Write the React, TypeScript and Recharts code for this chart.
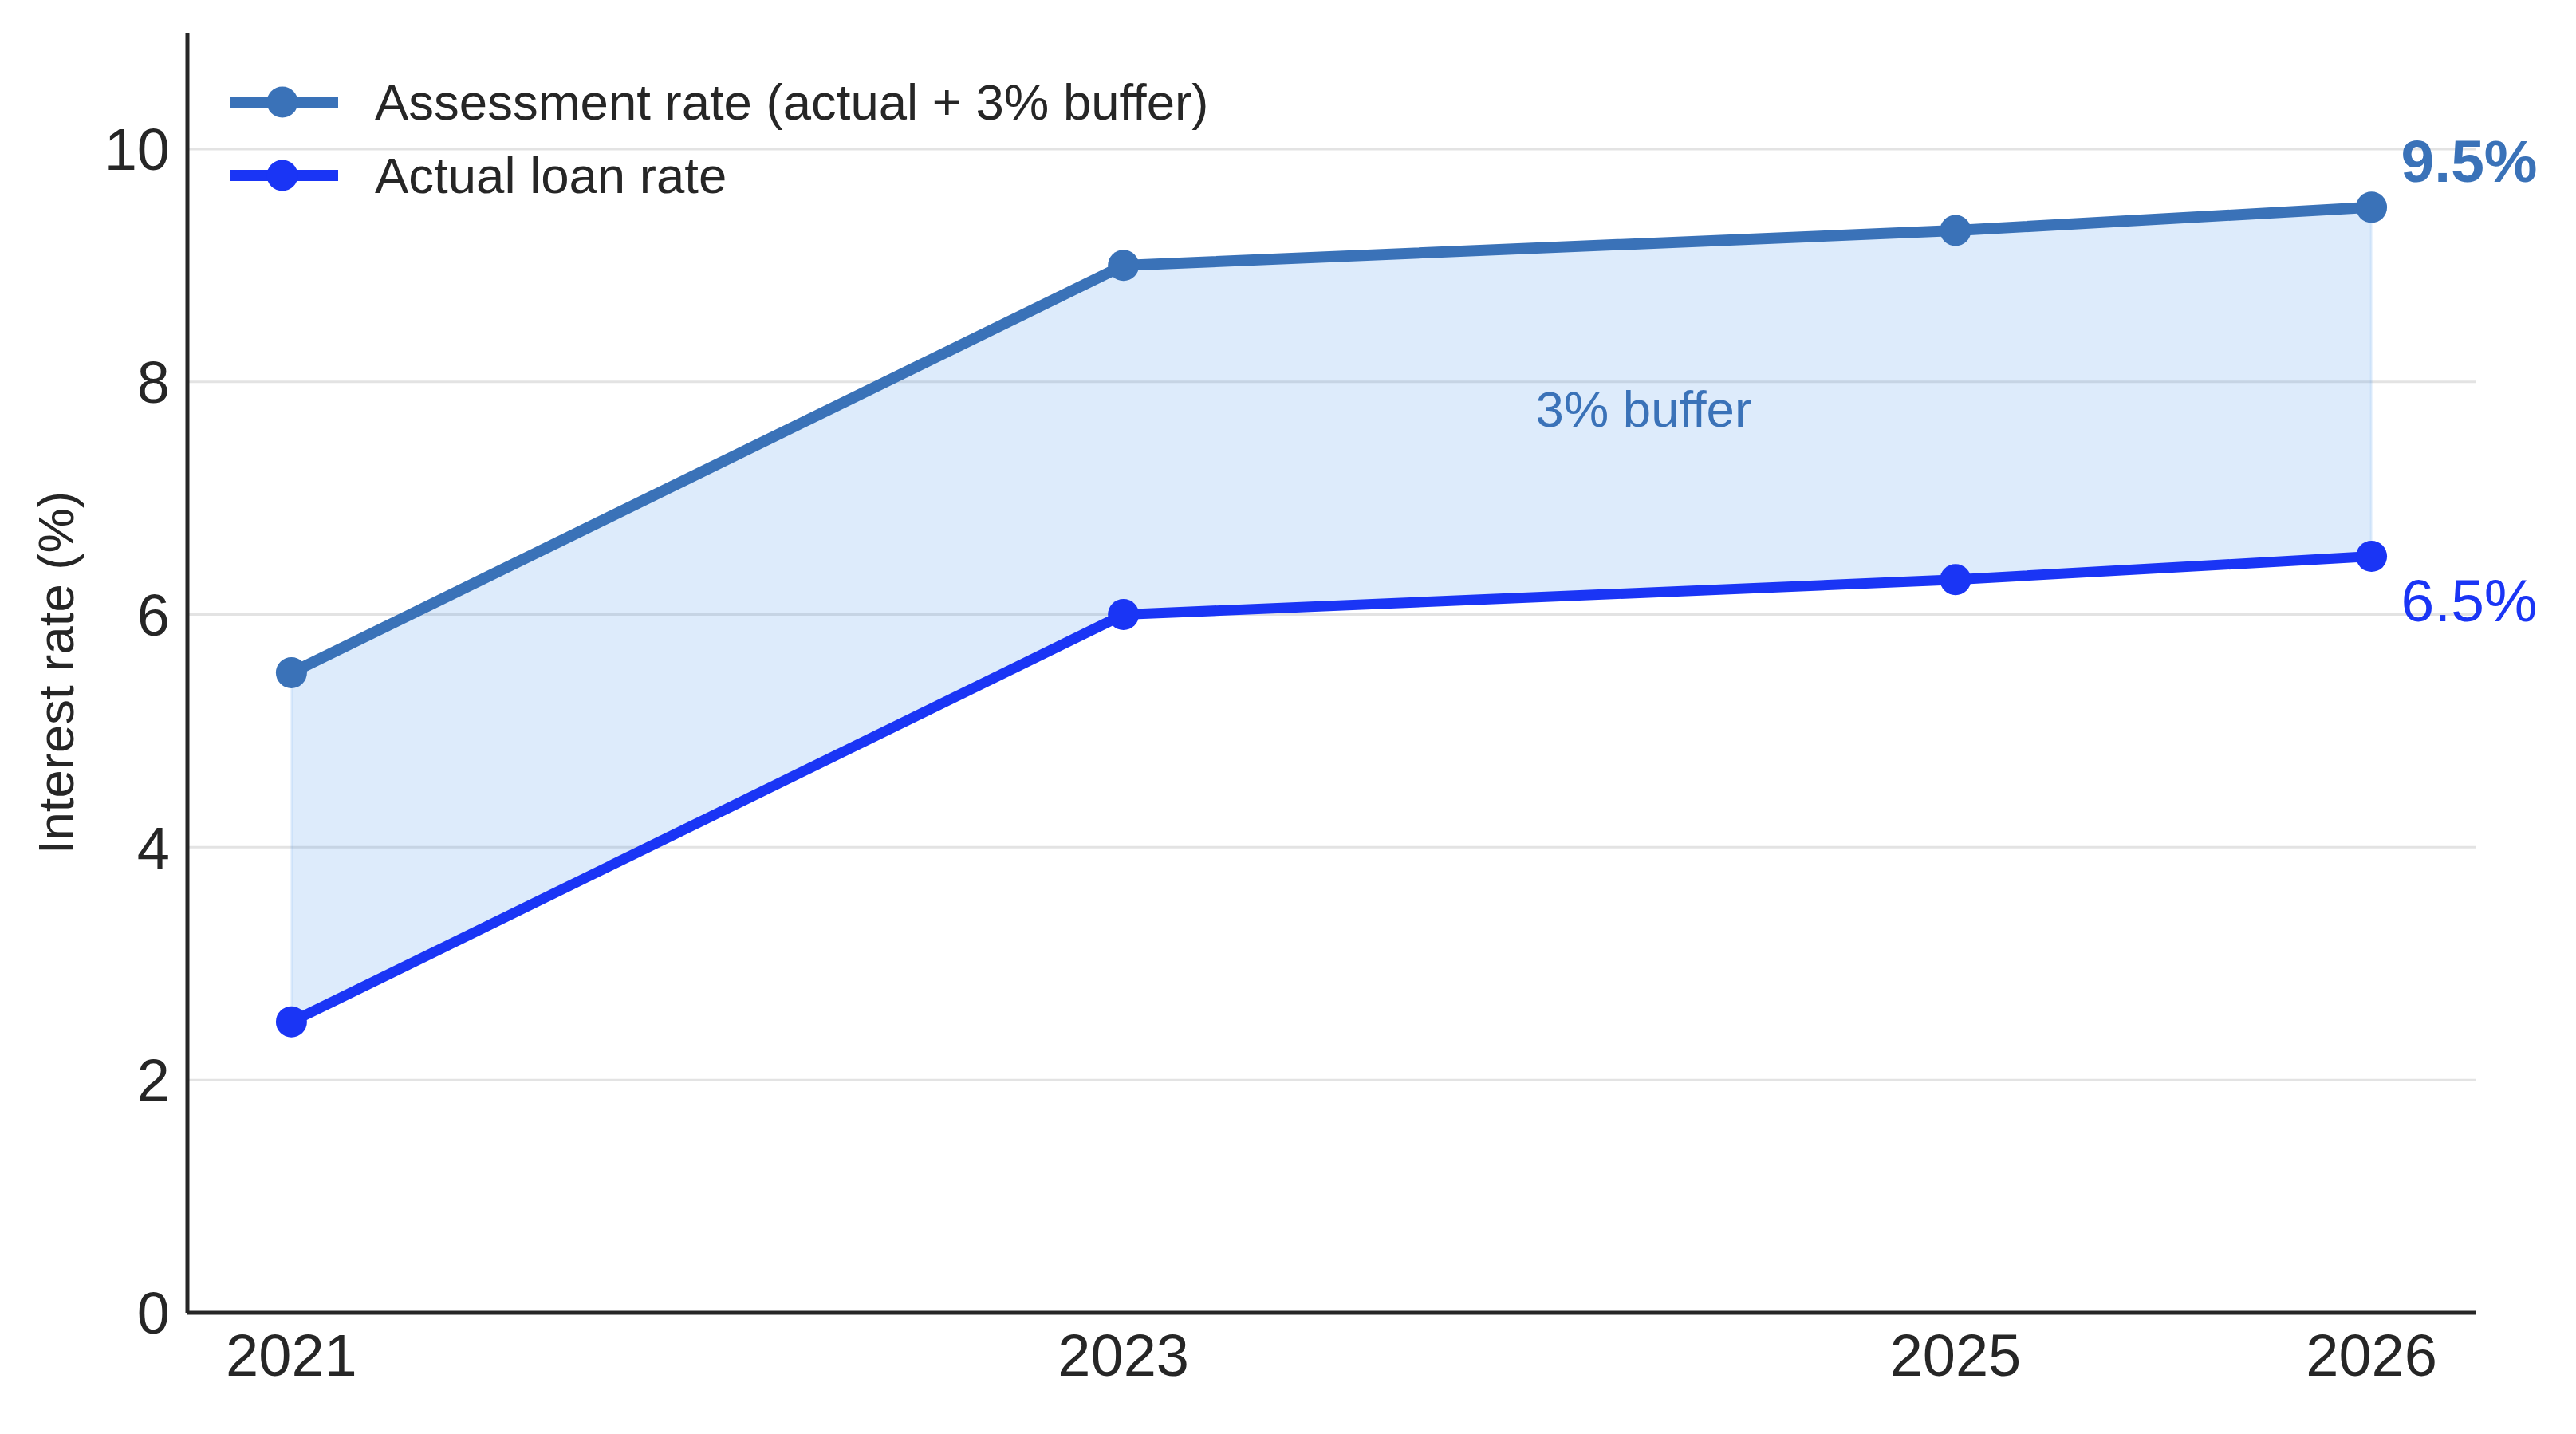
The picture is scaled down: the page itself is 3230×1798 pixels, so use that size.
import React from "react";
import {
  Area,
  CartesianGrid,
  ComposedChart,
  LabelList,
  Line,
  ReferenceDot,
  ReferenceLine,
  XAxis,
  YAxis,
} from "recharts";

const years = [2021, 2023, 2025, 2026];
const actualRate = [2.5, 6.0, 6.3, 6.5];
const assessmentRate = [5.5, 9.0, 9.3, 9.5];
const yTicks = [0, 2, 4, 6, 8, 10];

const ASSESS = "#3a72b8";
const ACTUAL = "#1a35f5";
const INK = "#262626";
const BAND = "#4290e9";
const FONT = "'Liberation Sans', Arial, sans-serif";

const data = years.map((year, i) => ({
  year,
  actual: actualRate[i],
  assessment: assessmentRate[i],
  band: [actualRate[i], assessmentRate[i]],
}));

const legendItems = [
  { label: "Assessment rate (actual + 3% buffer)", color: ASSESS },
  { label: "Actual loan rate", color: ACTUAL },
];

const first = 0;
const last = years.length - 1;

// legend sits inside the plot's top-left corner
function LegendBox() {
  return (
    <div
      style={{
        position: "absolute",
        left: 288,
        top: 82,
        fontFamily: FONT,
        fontSize: 63.5,
        color: INK,
        whiteSpace: "nowrap",
      }}
    >
      {legendItems.map((it) => (
        <div key={it.label} style={{ display: "flex", alignItems: "center", height: 92 }}>
          <svg width={136} height={40} style={{ marginRight: 46 }}>
            <line x1={0} y1={20} x2={136} y2={20} stroke={it.color} strokeWidth={14} />
            <circle cx={66} cy={20} r={19.5} fill={it.color} />
          </svg>
          <span>{it.label}</span>
        </div>
      ))}
    </div>
  );
}

function endLabel(color: string, bold: boolean, dy: number) {
  return (props: any) => {
    const { x, y, value, index } = props;
    if (index !== last) return null;
    return (
      <text
        x={x + 37}
        y={y + dy}
        fill={color}
        fontSize={75}
        fontWeight={bold ? "bold" : "normal"}
        fontFamily={FONT}
        textAnchor="start"
        dominantBaseline="central"
      >
        {`${value}%`}
      </text>
    );
  };
}

export default function App() {
  return (
    <div style={{ position: "absolute", left: 0, top: 0, background: "#fff" }}>
      <ComposedChart
        width={3230}
        height={1798}
        data={data}
        margin={{ top: 41, right: 126, bottom: 32, left: 35 }}
      >
        <CartesianGrid
          vertical={false}
          horizontalValues={yTicks}
          stroke="#e3e3e3"
          strokeWidth={3}
        />
        <XAxis
          dataKey="year"
          type="number"
          domain={[2020.75, 2026.25]}
          ticks={years}
          height={120}
          tickSize={0}
          tickMargin={26}
          axisLine={{ stroke: INK, strokeWidth: 5 }}
          tickLine={false}
          tick={{ fontSize: 74, fill: INK, fontFamily: FONT }}
        />
        <YAxis
          type="number"
          domain={[0, 11]}
          ticks={yTicks}
          width={200}
          tickSize={0}
          tickMargin={22}
          axisLine={{ stroke: INK, strokeWidth: 5 }}
          tickLine={false}
          tick={{ fontSize: 74, fill: INK, fontFamily: FONT }}
          label={{
            content: (p: any) => {
              const vb = p.viewBox;
              const cx = vb.x + 35;
              const cy = vb.y + vb.height / 2;
              return (
                <text
                  x={cx}
                  y={cy}
                  transform={`rotate(-90 ${cx} ${cy})`}
                  textAnchor="middle"
                  dominantBaseline="central"
                  fontSize={63.5}
                  fill={INK}
                  fontFamily={FONT}
                >
                  Interest rate (%)
                </text>
              );
            },
          }}
        />
        <Area
          dataKey="band"
          type="linear"
          stroke="none"
          fill={BAND}
          fillOpacity={0.18}
          isAnimationActive={false}
          activeDot={false}
        />
        {/* soft edges closing the band at both ends */}
        {[first, last].map((i) => (
          <ReferenceLine
            key={i}
            segment={[
              { x: years[i], y: actualRate[i] },
              { x: years[i], y: assessmentRate[i] },
            ]}
            stroke={BAND}
            strokeOpacity={0.1}
            strokeWidth={4}
          />
        ))}
        <Line
          dataKey="assessment"
          type="linear"
          stroke={ASSESS}
          strokeWidth={14}
          dot={{ r: 19.5, fill: ASSESS, stroke: "none" }}
          activeDot={false}
          isAnimationActive={false}
        >
          <LabelList dataKey="assessment" content={endLabel(ASSESS, true, -58)} />
        </Line>
        <Line
          dataKey="actual"
          type="linear"
          stroke={ACTUAL}
          strokeWidth={13}
          dot={{ r: 19.5, fill: ACTUAL, stroke: "none" }}
          activeDot={false}
          isAnimationActive={false}
        >
          <LabelList dataKey="actual" content={endLabel(ACTUAL, false, 55)} />
        </Line>
        <ReferenceDot
          x={2024.25}
          y={7.77}
          r={0}
          stroke="none"
          label={{ value: "3% buffer", fill: ASSESS, fontSize: 63.5, fontFamily: FONT, position: "center" }}
        />
      </ComposedChart>
      <LegendBox />
    </div>
  );
}
